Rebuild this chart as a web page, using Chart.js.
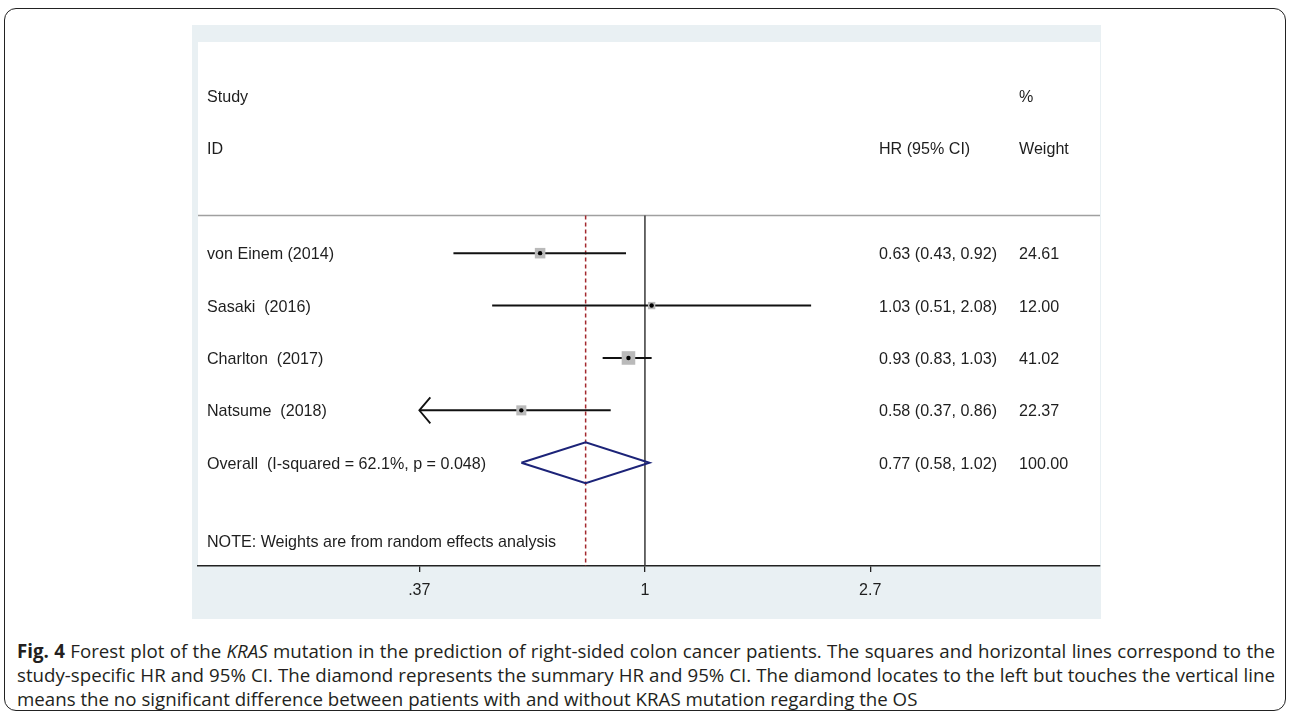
<!DOCTYPE html>
<html><head><meta charset="utf-8">
<script src="https://cdn.jsdelivr.net/npm/chart.js@4.4.1/dist/chart.umd.min.js"></script>
<style>
html,body{margin:0;padding:0;background:#fff;}
body{width:1290px;height:716px;position:relative;overflow:hidden;font-family:"Liberation Sans",Arial,sans-serif;}
#frame{position:absolute;left:4px;top:8px;width:1282px;height:703px;border:1.5px solid #222;border-radius:12px;box-sizing:border-box;}
#panel{position:absolute;left:192px;top:25px;width:909px;height:594px;background:#e9f0f3;}
#panel canvas{position:absolute;left:0;top:0;}
#caption{position:absolute;left:17px;top:638.5px;width:1258px;font-family:"Open Sans",sans-serif;font-size:16.5px;color:#231f20;line-height:24.3px;}
#caption div{text-align:justify;text-align-last:justify;white-space:nowrap;}
#caption div.last{text-align-last:left;}
.m{display:inline-block;white-space:nowrap;}
</style></head>
<body>
<div id="frame"></div>
<div id="panel"><canvas id="c" width="909" height="594"></canvas></div>
<div id="caption">
<div><b>Fig. 4</b> Forest plot of the <i>KRAS</i> mutation in the prediction of right-sided colon cancer patients. The squares and horizontal lines correspond to the</div>
<div>study-specific HR and 95% CI. The diamond represents the summary HR and 95% CI. The diamond locates to the left but touches the vertical line</div>
<div class="last">means the no significant difference between patients with and without KRAS mutation regarding the OS</div>
</div>
<script>
// ---- data ----
const studies = ['von Einem (2014)', 'Sasaki  (2016)', 'Charlton  (2017)', 'Natsume  (2018)'];
const hr = [0.63, 1.03, 0.93, 0.58];
const ciLow = [0.43, 0.51, 0.83, 0.37];
const ciHigh = [0.92, 2.08, 1.03, 0.86];
const weights = [24.61, 12.00, 41.02, 22.37];
const overallLabel = 'Overall  (I-squared = 62.1%, p = 0.048)';
const overallHR = 0.77, overallLow = 0.58, overallHigh = 1.02, overallWeight = 100.00;
const noteText = 'NOTE: Weights are from random effects analysis';
const headerTop = ['Study', '%'];
const headerBottom = ['ID', 'HR (95% CI)', 'Weight'];
const xTicks = [0.37, 1, 2.7];
const xTickLabels = ['.37', '1', '2.7'];
const nullValue = 1;

// ---- caption fitting (layout only) ----
(function(){
  const cap = document.getElementById('caption');
  const lines = cap.querySelectorAll('div');
  const targets = [1258, 1258, 905];
  let f = Infinity;
  lines.forEach((d,i)=>{
    const s = document.createElement('span'); s.className='m'; s.innerHTML = d.innerHTML;
    cap.appendChild(s); const w = s.getBoundingClientRect().width; cap.removeChild(s);
    f = Math.min(f, targets[i]/w);
  });
  cap.style.fontSize = (16.5*f*0.997).toFixed(2)+'px';
})();

// ---- layout in row units (y axis) ----
const firstRow = 4, headerRow1 = 1.0, headerRow2 = 2, sepRow = 3.28, noteRow = 9.5;
const overallRow = firstRow + studies.length;
const yMin = -0.03, yMax = 9.97;
const diamondHalf = 0.39;

const FONT = '16.1px "Liberation Sans", Arial, sans-serif';
const TXT = '#1e1e1e';
const TEXT_DY = 1.5;

const datasets = [];
datasets.push({data:[{x:nullValue,y:sepRow},{x:nullValue,y:yMax}], showLine:true, borderColor:'#3a3a3a', borderWidth:1.5, pointRadius:0, order:6});
datasets.push({data:[{x:overallHR,y:sepRow},{x:overallHR,y:yMax}], showLine:true, borderColor:'#a3282e', borderWidth:1.5, borderDash:[4,3], pointRadius:0, order:5});
studies.forEach((s,i)=>{
  datasets.push({data:[{x:ciLow[i],y:firstRow+i},{x:ciHigh[i],y:firstRow+i}], showLine:true, borderColor:'#111', borderWidth:2, pointRadius:0, order:4});
});
datasets.push({data:hr.map((v,i)=>({x:v,y:firstRow+i})), showLine:false, pointStyle:'rect',
  pointRadius:weights.map(w=>1.5*Math.sqrt(w)), backgroundColor:'#bababa', borderWidth:0, order:3});
datasets.push({data:hr.map((v,i)=>({x:v,y:firstRow+i})), showLine:false, pointStyle:'circle',
  pointRadius:2.2, backgroundColor:'#000', borderWidth:0, order:1});
datasets.push({data:[{x:overallLow,y:overallRow},{x:overallHR,y:overallRow-diamondHalf},{x:overallHigh,y:overallRow},{x:overallHR,y:overallRow+diamondHalf},{x:overallLow,y:overallRow}],
  showLine:true, borderColor:'#1c2378', borderWidth:2, pointRadius:0, tension:0, order:2});

const forestPlugin = {
  id:'forestPlugin',
  beforeDraw(chart){
    const {ctx, chartArea:a} = chart;
    ctx.save();
    ctx.fillStyle='#fff';
    ctx.fillRect(a.left, a.top, a.right-a.left, a.bottom-a.top);
    const y = chart.scales.y.getPixelForValue(sepRow);
    ctx.strokeStyle='#a0a0a0'; ctx.lineWidth=1.5;
    ctx.beginPath(); ctx.moveTo(a.left,y); ctx.lineTo(a.right,y); ctx.stroke();
    ctx.restore();
  },
  afterDatasetsDraw(chart){
    const {ctx} = chart; const xs=chart.scales.x, ys=chart.scales.y;
    ctx.save();
    ctx.strokeStyle='#111'; ctx.lineWidth=1.8;
    studies.forEach((s,i)=>{
      if (ciLow[i] <= xTicks[0]) {
        const px = xs.getPixelForValue(ciLow[i]), py = ys.getPixelForValue(firstRow+i);
        ctx.beginPath(); ctx.moveTo(px+11,py-13); ctx.lineTo(px,py); ctx.lineTo(px+11,py+13); ctx.stroke();
      }
    });
    ctx.restore();
  },
  afterDraw(chart){
    const {ctx, chartArea:a} = chart; const ys=chart.scales.y;
    const xLabel = a.left+9, xHR = a.left+681, xW = a.left+821;
    const Y = v => ys.getPixelForValue(v)+TEXT_DY;
    ctx.save();
    ctx.font = FONT; ctx.fillStyle = TXT; ctx.textBaseline='middle'; ctx.textAlign='left';
    ctx.fillText(headerTop[0], xLabel, Y(headerRow1));
    ctx.fillText(headerTop[1], xW, Y(headerRow1));
    ctx.fillText(headerBottom[0], xLabel, Y(headerRow2));
    ctx.fillText(headerBottom[1], xHR, Y(headerRow2));
    ctx.fillText(headerBottom[2], xW, Y(headerRow2));
    studies.forEach((s,i)=>{
      const py = Y(firstRow+i);
      ctx.fillText(s, xLabel, py);
      ctx.fillText(hr[i].toFixed(2)+' ('+ciLow[i].toFixed(2)+', '+ciHigh[i].toFixed(2)+')', xHR, py);
      ctx.fillText(weights[i].toFixed(2), xW, py);
    });
    const po = Y(overallRow);
    ctx.fillText(overallLabel, xLabel, po);
    ctx.fillText(overallHR.toFixed(2)+' ('+overallLow.toFixed(2)+', '+overallHigh.toFixed(2)+')', xHR, po);
    ctx.fillText(overallWeight.toFixed(2), xW, po);
    ctx.fillText(noteText, xLabel, Y(noteRow));
    ctx.restore();
  }
};

new Chart(document.getElementById('c'), {
  type:'scatter',
  data:{datasets},
  options:{
    responsive:false, animation:false, events:[],
    layout:{autoPadding:false, padding:{left:6, right:1, top:17, bottom:0}},
    plugins:{legend:{display:false}, tooltip:{enabled:false}},
    scales:{
      x:{type:'logarithmic', min:0.1395, max:7.43,
        afterBuildTicks(scale){ scale.ticks = xTicks.map(v=>({value:v})); },
        afterFit(scale){ scale.height = 53; scale.paddingLeft = 0; scale.paddingRight = 0; },
        ticks:{callback:(v,i)=>xTickLabels[i], color:TXT, padding:9, autoSkip:false, maxRotation:0,
          font:{family:'"Liberation Sans", Arial, sans-serif', size:16.1}},
        grid:{display:true, drawOnChartArea:false, drawTicks:true, tickLength:6, color:'#222', lineWidth:1.3},
        border:{display:true, color:'#222', width:1.5}
      },
      y:{type:'linear', min:yMin, max:yMax, reverse:true, display:false}
    }
  },
  plugins:[forestPlugin]
});
</script>
</body></html>
